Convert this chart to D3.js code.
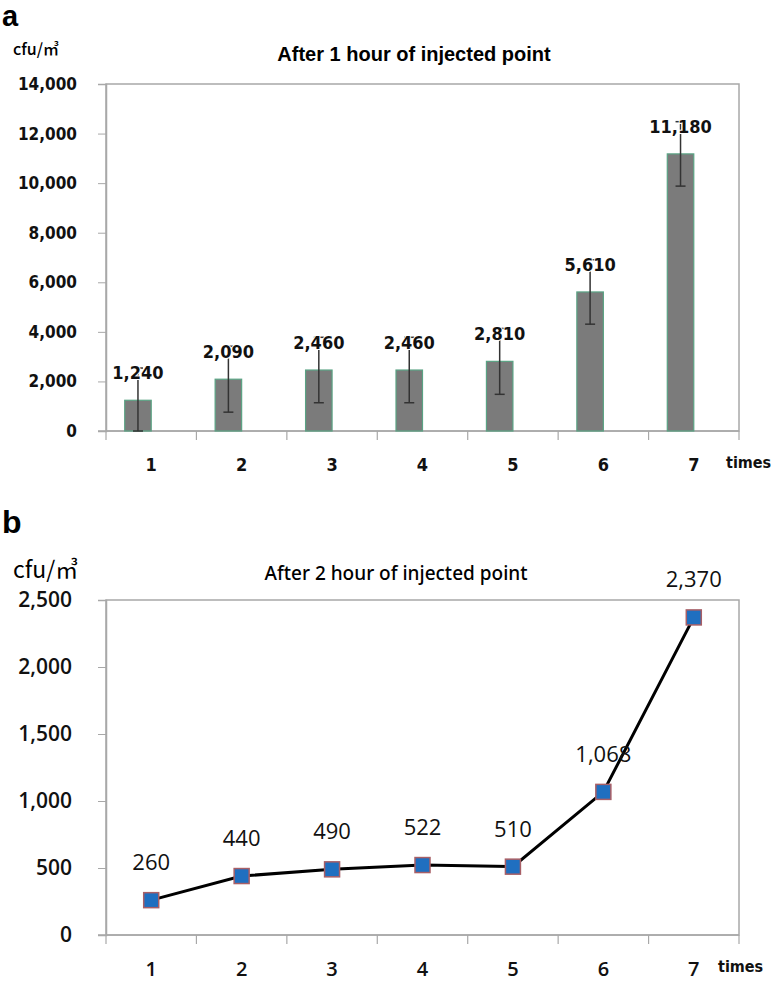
<!DOCTYPE html>
<html><head><meta charset="utf-8">
<script src="https://cdn.jsdelivr.net/npm/d3@7"></script>
<style>body{margin:0;background:#fff}svg{display:block}</style>
</head><body>
<svg id="c" width="780" height="984"></svg>
<script>
const categories = ["1","2","3","4","5","6","7"];
const valuesA = [1240, 2090, 2460, 2460, 2810, 5610, 11180];
const errorsA = [1300, 1330, 1320, 1320, 1330, 1300, 1300];
const labelsA = ["1,240","2,090","2,460","2,460","2,810","5,610","11,180"];
const ticksA = [0, 2000, 4000, 6000, 8000, 10000, 12000, 14000];
const valuesB = [260, 440, 490, 522, 510, 1068, 2370];
const labelsB = ["260","440","490","522","510","1,068","2,370"];
const ticksB = [0, 500, 1000, 1500, 2000, 2500];

const svg = d3.select("#c");
const axisColor = "#a8a8a8";
const fmt = d3.format(",");

// ---------- Panel a ----------
const xA = d3.scaleBand().domain(categories).range([106, 739]).padding(0);
const yA = d3.scaleLinear().domain([0, 14000]).range([431, 84]);
const gA = svg.append("g");

gA.append("text").attr("x", 2).attr("y", 26).text("a")
  .attr("font-family", "Liberation Sans, Arial, sans-serif").attr("font-weight", "bold").attr("font-size", 29);
gA.append("text").attr("x", 13).attr("y", 55).text("cfu/㎥")
  .attr("font-family", "Noto Sans CJK KR").attr("font-weight", 500).attr("font-size", 16);
gA.append("text").attr("x", 414).attr("y", 61).attr("text-anchor", "middle").text("After 1 hour of injected point")
  .attr("font-family", "Liberation Sans, Arial, sans-serif").attr("font-weight", "bold").attr("font-size", 20);

// frame
gA.append("rect").attr("x", 106).attr("y", 84).attr("width", 633).attr("height", 347)
  .attr("fill", "none").attr("stroke", axisColor).attr("stroke-width", 1.5);

const yAxisA = gA.append("g").attr("transform", "translate(106,0)")
  .call(d3.axisLeft(yA).tickValues(ticksA).tickSize(8).tickFormat(fmt));
yAxisA.select(".domain").attr("stroke", axisColor).attr("stroke-width", 1.5);
yAxisA.selectAll(".tick line").attr("stroke", axisColor);
yAxisA.selectAll(".tick text").attr("x", -29).attr("font-family", "DejaVu Sans Condensed, DejaVu Sans")
  .attr("font-weight", "bold").attr("font-size", 17).attr("fill", "#111");

const xAxisA = gA.append("g").attr("transform", "translate(0,431)");
xAxisA.append("line").attr("x1", 98).attr("x2", 739).attr("stroke", axisColor).attr("stroke-width", 1.5);
const bounds = categories.map(c => xA(c)).concat([xA(categories[6]) + xA.bandwidth()]);
xAxisA.selectAll("line.tk").data(bounds).join("line").attr("class", "tk")
  .attr("x1", d => d).attr("x2", d => d).attr("y1", 0).attr("y2", 9).attr("stroke", axisColor).attr("stroke-width", 1.2);
xAxisA.selectAll("text").data(categories).join("text")
  .attr("x", d => xA(d) + xA.bandwidth() / 2).attr("y", 40).attr("text-anchor", "middle").text(d => d)
  .attr("font-family", "DejaVu Sans Condensed, DejaVu Sans").attr("font-weight", "bold").attr("font-size", 18).attr("fill", "#111");
gA.append("text").attr("x", 726).attr("y", 468).text("times")
  .attr("font-family", "DejaVu Sans Condensed, DejaVu Sans").attr("font-weight", "bold").attr("font-size", 16).attr("fill", "#111");

const barW = 26.5;
const barCenter = c => xA(c) + xA.bandwidth() / 2 - barW / 2;
gA.selectAll("rect.bar").data(valuesA).join("rect").attr("class", "bar")
  .attr("x", (d, i) => barCenter(categories[i]) - barW / 2).attr("width", barW)
  .attr("y", d => yA(d)).attr("height", d => yA(0) - yA(d))
  .attr("fill", "#7b7b7b").attr("stroke", "#5aa384").attr("stroke-width", 1.2);

const eg = gA.selectAll("g.err").data(valuesA).join("g").attr("class", "err")
  .attr("transform", (d, i) => `translate(${barCenter(categories[i])},0)`);
eg.append("line").attr("y1", (d, i) => yA(Math.max(0, d - errorsA[i]))).attr("y2", (d, i) => yA(d + errorsA[i]))
  .attr("stroke", "#333").attr("stroke-width", 1.5);
eg.append("line").attr("x1", -5).attr("x2", 5)
  .attr("y1", (d, i) => yA(Math.max(0, d - errorsA[i]))).attr("y2", (d, i) => yA(Math.max(0, d - errorsA[i])))
  .attr("stroke", "#333").attr("stroke-width", 1.5);
eg.append("line").attr("x1", -5).attr("x2", 5)
  .attr("y1", (d, i) => yA(d + errorsA[i])).attr("y2", (d, i) => yA(d + errorsA[i]))
  .attr("stroke", "#333").attr("stroke-width", 1.5);

gA.selectAll("text.vl").data(valuesA).join("text").attr("class", "vl")
  .attr("x", (d, i) => barCenter(categories[i])).attr("y", d => yA(d) - 21).attr("text-anchor", "middle")
  .text((d, i) => labelsA[i])
  .attr("font-family", "DejaVu Sans Condensed, DejaVu Sans").attr("font-weight", "bold").attr("font-size", 18).attr("fill", "#111")
  .attr("stroke", "#fff").attr("stroke-width", 2).attr("paint-order", "stroke");

// ---------- Panel b ----------
const xB = d3.scaleBand().domain(categories).range([106, 739]).padding(0);
const yB = d3.scaleLinear().domain([0, 2500]).range([935, 600]);
const gB = svg.append("g");

gB.append("text").attr("x", 2).attr("y", 533).text("b")
  .attr("font-family", "Liberation Sans, Arial, sans-serif").attr("font-weight", "bold").attr("font-size", 32);
gB.append("text").attr("x", 13).attr("y", 578).text("cfu/㎥")
  .attr("font-family", "Noto Sans CJK KR").attr("font-size", 23);
gB.append("text").attr("x", 396).attr("y", 580).attr("text-anchor", "middle").text("After 2 hour of injected point")
  .attr("font-family", "Noto Sans, Liberation Sans, sans-serif").attr("font-weight", 500).attr("font-size", 19);

gB.append("rect").attr("x", 106).attr("y", 600).attr("width", 633).attr("height", 335)
  .attr("fill", "none").attr("stroke", axisColor).attr("stroke-width", 1.5);

const yAxisB = gB.append("g").attr("transform", "translate(106,0)")
  .call(d3.axisLeft(yB).tickValues(ticksB).tickSize(8).tickFormat(fmt));
yAxisB.select(".domain").attr("stroke", axisColor).attr("stroke-width", 1.5);
yAxisB.selectAll(".tick line").attr("stroke", axisColor);
yAxisB.selectAll(".tick text").attr("x", -34).attr("font-family", "Open Sans")
  .attr("font-weight", 600).attr("font-size", 21).attr("fill", "#111");

const xAxisB = gB.append("g").attr("transform", "translate(0,935)");
xAxisB.append("line").attr("x1", 98).attr("x2", 739).attr("stroke", axisColor).attr("stroke-width", 1.5);
xAxisB.selectAll("line.tk").data(bounds).join("line").attr("class", "tk")
  .attr("x1", d => d).attr("x2", d => d).attr("y1", 0).attr("y2", 9).attr("stroke", axisColor).attr("stroke-width", 1.2);
xAxisB.selectAll("text").data(categories).join("text")
  .attr("x", d => xB(d) + xB.bandwidth() / 2).attr("y", 41).attr("text-anchor", "middle").text(d => d)
  .attr("font-family", "Open Sans").attr("font-weight", 600).attr("font-size", 20).attr("fill", "#111");
gB.append("text").attr("x", 718).attr("y", 972).text("times")
  .attr("font-family", "DejaVu Sans Condensed, DejaVu Sans").attr("font-weight", "bold").attr("font-size", 16).attr("fill", "#111");

const cx = c => xB(c) + xB.bandwidth() / 2;
const line = d3.line().x((d, i) => cx(categories[i])).y(d => yB(d));
gB.append("path").datum(valuesB).attr("d", line).attr("fill", "none").attr("stroke", "#000").attr("stroke-width", 3);
const ms = 15;
gB.selectAll("rect.mk").data(valuesB).join("rect").attr("class", "mk")
  .attr("x", (d, i) => cx(categories[i]) - ms / 2).attr("y", d => yB(d) - ms / 2).attr("width", ms).attr("height", ms)
  .attr("fill", "#1f6fc0").attr("stroke", "#a85f66").attr("stroke-width", 1.5);
gB.selectAll("text.vl").data(valuesB).join("text").attr("class", "vl")
  .attr("x", (d, i) => cx(categories[i])).attr("y", d => yB(d) - 30).attr("text-anchor", "middle")
  .text((d, i) => labelsB[i])
  .attr("font-family", "Open Sans").attr("font-weight", 500).attr("font-size", 22).attr("fill", "#111");
</script>
</body></html>
